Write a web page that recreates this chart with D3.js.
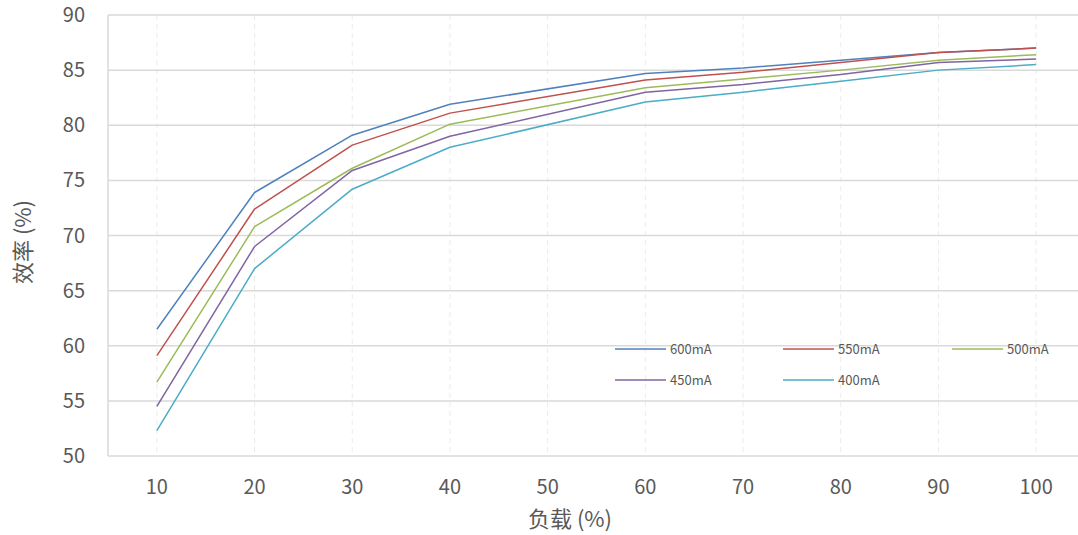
<!DOCTYPE html>
<html lang="zh">
<head>
  <meta charset="UTF-8">
  <title>效率 vs 负载</title>
  <script src="https://d3js.org/d3.v7.min.js"></script>
  <style>
    body { margin: 0; padding: 0; background: #fff; overflow: hidden; }
    svg { display: block; font-family: "Noto Sans CJK SC", "Noto Sans", sans-serif; }
  </style>
</head>
<body>
  <svg id="chart"></svg>
  <script>
    // load (%) categories; no measurement at 50
    const loads = [10, 20, 30, 40, 50, 60, 70, 80, 90, 100];
    const yTicks = [50, 55, 60, 65, 70, 75, 80, 85, 90];
    const seriesNames = ["600mA", "550mA", "500mA", "450mA", "400mA"];
    const eff600 = [61.5, 73.9, 79.1, 81.9, null, 84.7, 85.2, 85.9, 86.6, 87.0];
    const eff550 = [59.1, 72.4, 78.2, 81.1, null, 84.1, 84.8, 85.7, 86.6, 87.0];
    const eff500 = [56.7, 70.8, 76.1, 80.1, null, 83.4, 84.2, 85.0, 85.9, 86.4];
    const eff450 = [54.5, 69.0, 75.9, 79.0, null, 83.0, 83.7, 84.6, 85.7, 86.0];
    const eff400 = [52.3, 67.0, 74.2, 78.0, null, 82.1, 83.0, 84.0, 85.0, 85.5];
    const colors = ["#4F81BD", "#C0504D", "#9BBB59", "#8064A2", "#4BACC6"];

    const allSeries = [eff600, eff550, eff500, eff450, eff400];
    const width = 1078, height = 535;
    const plot = { left: 108, right: 1085, top: 15, bottom: 456 };

    const svg = d3.select("#chart").attr("width", width).attr("height", height);

    const x = d3.scaleBand().domain(loads).range([plot.left, plot.right]);
    const y = d3.scaleLinear().domain([50, 90]).range([plot.bottom, plot.top]);
    const cx = d => x(d) + x.bandwidth() / 2;

    // vertical dashed grid
    svg.append("g").selectAll("line").data(loads).join("line")
      .attr("x1", cx).attr("x2", cx)
      .attr("y1", plot.top).attr("y2", plot.bottom)
      .attr("stroke", "#ebebeb").attr("stroke-width", 1)
      .attr("stroke-dasharray", "5,4");

    // horizontal grid
    svg.append("g").selectAll("line").data(yTicks).join("line")
      .attr("x1", plot.left).attr("x2", plot.right)
      .attr("y1", d => y(d)).attr("y2", d => y(d))
      .attr("stroke", "#d9d9d9").attr("stroke-width", 1.5);

    // left axis line
    svg.append("line")
      .attr("x1", plot.left).attr("x2", plot.left)
      .attr("y1", plot.top).attr("y2", plot.bottom)
      .attr("stroke", "#d9d9d9").attr("stroke-width", 1.5);

    // y tick labels
    svg.append("g").selectAll("text").data(yTicks).join("text")
      .attr("x", 85).attr("y", d => y(d))
      .attr("dy", "0.35em")
      .attr("text-anchor", "end")
      .attr("font-size", 20).attr("fill", "#595959")
      .text(d => d);

    // x tick labels
    svg.append("g").selectAll("text").data(loads).join("text")
      .attr("x", cx).attr("y", 487)
      .attr("dy", "0.35em")
      .attr("text-anchor", "middle")
      .attr("font-size", 20).attr("fill", "#595959")
      .text(d => d);

    // axis titles
    svg.append("text")
      .attr("x", 570).attr("y", 519).attr("dy", "0.35em")
      .attr("text-anchor", "middle")
      .attr("font-size", 22).attr("fill", "#595959")
      .text("负载 (%)");

    svg.append("text")
      .attr("transform", "translate(23,242) rotate(-90)")
      .attr("dy", "0.35em")
      .attr("text-anchor", "middle")
      .attr("font-size", 22).attr("fill", "#595959")
      .text("效率 (%)");

    // lines
    const line = d3.line()
      .x(d => cx(d.load))
      .y(d => y(d.value));

    allSeries.forEach((vals, i) => {
      const pts = loads.map((l, j) => ({ load: l, value: vals[j] })).filter(d => d.value !== null);
      svg.append("path")
        .datum(pts)
        .attr("fill", "none")
        .attr("stroke", colors[i])
        .attr("stroke-width", 1.5)
        .attr("stroke-linejoin", "round")
        .attr("d", line);
    });

    // legend
    const legendPos = [[615, 349], [783, 349], [952, 349], [615, 380], [783, 380]];
    const legend = svg.append("g").selectAll("g").data(seriesNames).join("g")
      .attr("transform", (d, i) => `translate(${legendPos[i][0]},${legendPos[i][1]})`);
    legend.append("line")
      .attr("x1", 0).attr("x2", 51).attr("y1", 0).attr("y2", 0)
      .attr("stroke", (d, i) => colors[i]).attr("stroke-width", 1.5);
    legend.append("text")
      .attr("x", 55).attr("dy", "0.35em")
      .attr("font-size", 13).attr("fill", "#595959")
      .text(d => d);
  </script>
</body>
</html>
